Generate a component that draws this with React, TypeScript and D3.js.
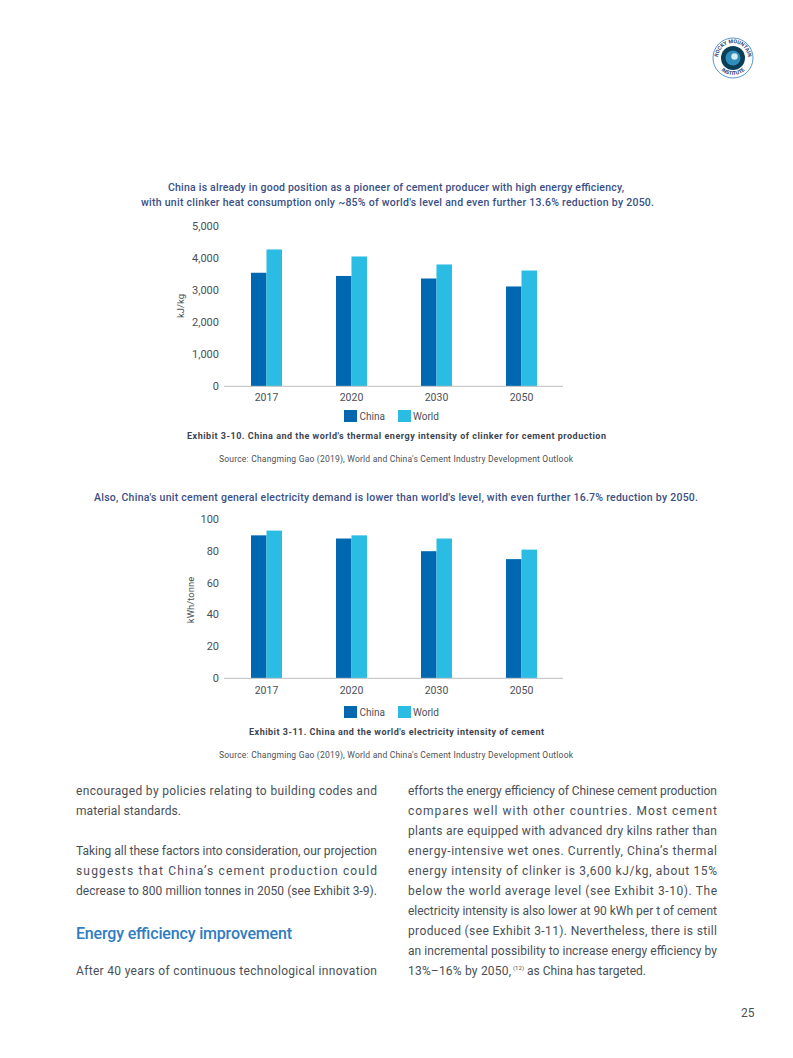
import React from "react";
import * as d3 from "d3";

const years = ["2017", "2020", "2030", "2050"];
const thermalChina = [3550, 3450, 3370, 3120];
const thermalWorld = [4280, 4060, 3810, 3620];
const thermalTicks = [0, 1000, 2000, 3000, 4000, 5000];
const elecChina = [90, 88, 80, 75];
const elecWorld = [93, 90, 88, 81];
const elecTicks = [0, 20, 40, 60, 80, 100];

const CHINA = "#0067B1";
const WORLD = "#2BBCE3";
const NAVY = "#3A4F85";
const BODY = "#4A4F57";
const FONT = "Roboto, 'Liberation Sans', sans-serif";

type T = { x: number; w?: number; y: number; s: number; c?: string; b?: number; t: string };
function Txt({ x, w, y, s, c = BODY, b = 400, t }: T) {
  return (
    <text x={x} y={y} fontSize={s} fill={c} fontWeight={b} fontFamily={FONT}
      {...(w ? { textLength: w, lengthAdjust: "spacing" } : {})}>{t}</text>
  );
}

const xScale = d3.scaleBand<string>().domain(years).range([224, 564]);

function Bars({ china, world, ticks, max, y0, y1, yFmt, yLabel, yLabelX, yLabelY, legendY, tickDy }: {
  china: number[]; world: number[]; ticks: number[]; max: number; y0: number; y1: number;
  yFmt: (v: number) => string; yLabel: string; yLabelX: number; yLabelY: number; legendY: number; tickDy: number;
}) {
  const y = d3.scaleLinear().domain([0, max]).range([y0, y1]);
  const barW = 15.5;
  return (
    <g fontFamily={FONT} fill={BODY}>
      {years.map((yr, i) => {
        const c = xScale(yr)! + xScale.bandwidth() / 2;
        return (
          <g key={yr}>
            <rect x={c - barW} y={y(china[i])} width={barW} height={y0 - y(china[i])} fill={CHINA} />
            <rect x={c} y={y(world[i])} width={barW} height={y0 - y(world[i])} fill={WORLD} />
            <text x={c} y={y0 + tickDy} textAnchor="middle" fontSize={10.5}>{yr}</text>
          </g>
        );
      })}
      <line x1={224} x2={563} y1={y0 + 0.3} y2={y0 + 0.3} stroke="#B9BCBF" strokeWidth={1} />
      {ticks.map((t) => (
        <text key={t} x={219} y={y(t) + 3.6} textAnchor="end" fontSize={11}>{yFmt(t)}</text>
      ))}
      <text transform={`translate(${yLabelX},${yLabelY}) rotate(-90)`} textAnchor="middle" fontSize={9.5}>{yLabel}</text>
      <rect x={344} y={legendY} width={13} height={12} fill={CHINA} />
      <text x={359.5} y={legendY + 10} fontSize={10}>China</text>
      <rect x={398} y={legendY} width={13} height={12} fill={WORLD} />
      <text x={413} y={legendY + 10} fontSize={10}>World</text>
    </g>
  );
}

const fmtComma = d3.format(",");
const fmtPlain = d3.format("d");

const leftLines: [string, number, number][] = [
  ["encouraged by policies relating to building codes and", 795, 301],
  ["material standards.", 815, 105],
  ["Taking all these factors into consideration, our projection", 855, 301],
  ["suggests that China’s cement production could", 875, 301],
  ["decrease to 800 million tonnes in 2050 (see Exhibit 3-9).", 895, 301],
  ["After 40 years of continuous technological innovation", 975, 301],
];
const rightLines: [string, number][] = [
  ["efforts the energy efficiency of Chinese cement production", 795],
  ["compares well with other countries. Most cement", 815],
  ["plants are equipped with advanced dry kilns rather than", 835],
  ["energy-intensive wet ones. Currently, China’s thermal", 855],
  ["energy intensity of clinker is 3,600 kJ/kg, about 15%", 875],
  ["below the world average level (see Exhibit 3-10). The", 895],
  ["electricity intensity is also lower at 90 kWh per t of cement", 915],
  ["produced (see Exhibit 3-11). Nevertheless, there is still", 935],
  ["an incremental possibility to increase energy efficiency by", 955],
];

export default function App() {
  return (
    <svg width={793} height={1058} viewBox="0 0 793 1058"
      style={{ position: "absolute", left: 0, top: 0, background: "#fff" }}>
      {/* logo */}
      <g>
        <circle cx={733} cy={58} r={20} fill="#fff" stroke="#2E7CC4" strokeWidth={0.8} />
        <circle cx={733} cy={58} r={12} fill="#0B3F58" />
        <circle cx={733} cy={58} r={7.5} fill="#2F8DBB" />
        <circle cx={734.5} cy={56.5} r={3.2} fill="#D5ECF6" />
        <defs>
          <path id="arcTop" d="M 718 58 A 15 15 0 0 1 748 58" />
          <path id="arcBot" d="M 716 58 A 17 17 0 0 0 750 58" />
        </defs>
        <text fontSize={5.2} fontWeight={700} fill="#1F3F78" fontFamily={FONT} textAnchor="middle">
          <textPath href="#arcTop" startOffset="50%">ROCKY MOUNTAIN</textPath>
        </text>
        <text fontSize={5.2} fontWeight={700} fill="#1F3F78" fontFamily={FONT} textAnchor="middle">
          <textPath href="#arcBot" startOffset="50%">INSTITUTE</textPath>
        </text>
      </g>

      {/* chart 1 */}
      <Txt x={168} w={456} y={191} s={10.5} b={500} c={NAVY} t="China is already in good position as a pioneer of cement producer with high energy efficiency," />
      <Txt x={141} w={513} y={206} s={10.5} b={500} c={NAVY} t="with unit clinker heat consumption only ~85% of world's level and even further 13.6% reduction by 2050." />
      <Bars china={thermalChina} world={thermalWorld} ticks={thermalTicks} max={5000} y0={386} y1={226.5}
        yFmt={fmtComma} yLabel="kJ/kg" yLabelX={184} yLabelY={306} legendY={410} tickDy={14.5} />
      <Txt x={187} w={419} y={439} s={9} b={700} c="#3D4450" t="Exhibit 3-10. China and the world's thermal energy intensity of clinker for cement production" />
      <Txt x={219} w={354} y={462} s={8.5} t="Source: Changming Gao (2019), World and China's Cement Industry Development Outlook" />

      {/* chart 2 */}
      <Txt x={94} w={604} y={501} s={10.5} b={500} c={NAVY} t="Also, China's unit cement general electricity demand is lower than world's level, with even further 16.7% reduction by 2050." />
      <Bars china={elecChina} world={elecWorld} ticks={elecTicks} max={100} y0={678} y1={519.5}
        yFmt={fmtPlain} yLabel="kWh/tonne" yLabelX={194} yLabelY={600} legendY={706} tickDy={16} />
      <Txt x={249} w={295} y={735} s={9} b={700} c="#3D4450" t="Exhibit 3-11. China and the world's electricity intensity of cement" />
      <Txt x={219} w={354} y={758} s={8.5} t="Source: Changming Gao (2019), World and China's Cement Industry Development Outlook" />

      {/* body text */}
      {leftLines.map(([t, y, w]) => <Txt key={y} x={76} w={w} y={y} s={12} t={t} />)}
      <Txt x={76} w={216} y={939} s={16} b={500} c="#2E7CC4" t="Energy efficiency improvement" />
      {rightLines.map(([t, y]) => <Txt key={y} x={408} w={309} y={y} s={12} t={t} />)}
      <Txt x={408} w={103} y={975} s={12} t="13%–16% by 2050," />
      <Txt x={513} w={11} y={970} s={6} t="(12)" />
      <Txt x={527} w={119} y={975} s={12} t="as China has targeted." />
      <Txt x={741} y={1017} s={12} t="25" />
    </svg>
  );
}
